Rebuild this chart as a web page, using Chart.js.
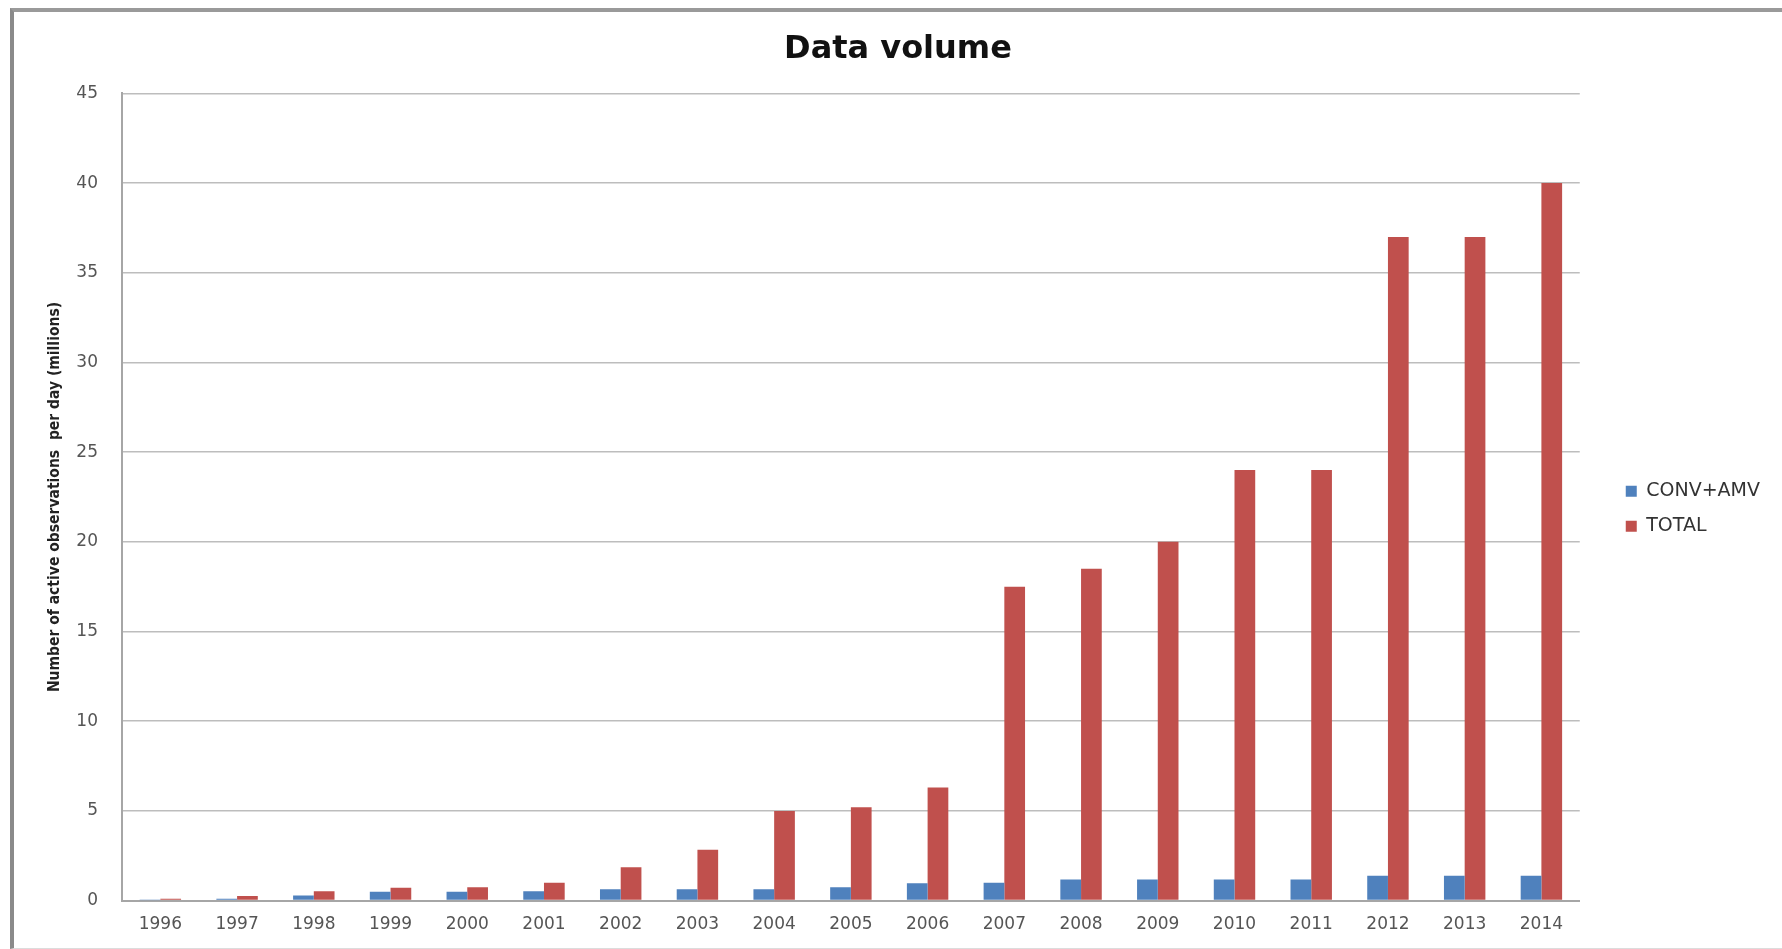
<!DOCTYPE html>
<html lang="en">
<head>
    <meta charset="UTF-8">
    <title>Data volume</title>
    <script src="https://cdn.jsdelivr.net/npm/chart.js"></script>
    <style>
        * {
            padding: 0;
            margin: 0;
        }

        body {
            background-color: #ffffff;
            width: 1782px;
            height: 949px;
            overflow: hidden;
            position: relative;
        }

        #grafico {
            position: absolute;
            left: 0;
            top: 0;
        }

        /* moldura cinza do print original */
        .moldura {
            position: absolute;
            left: 10px;
            top: 8px;
            width: 1800px;
            height: 936px;
            border-left: 4px solid #8a8a8a;
            border-top: 4px solid #9a9a9a;
            border-bottom: 1px solid #dcdcdc;
            pointer-events: none;
        }
    </style>
</head>
<body>
    <canvas id="grafico" width="1782" height="949"></canvas>
    <div class="moldura"></div>

    <script>
        const anos = ['1996', '1997', '1998', '1999', '2000', '2001', '2002', '2003', '2004', '2005',
            '2006', '2007', '2008', '2009', '2010', '2011', '2012', '2013', '2014'];
        const convAmv = [0.02, 0.1, 0.28, 0.5, 0.5, 0.52, 0.63, 0.63, 0.63, 0.74,
            0.97, 1.0, 1.17, 1.17, 1.17, 1.17, 1.39, 1.39, 1.39];
        const total = [0.1, 0.25, 0.52, 0.72, 0.75, 1.0, 1.86, 2.83, 5.0, 5.2,
            6.3, 17.5, 18.5, 20, 24, 24, 37, 37, 40];
        const ticksY = [0, 5, 10, 15, 20, 25, 30, 35, 40, 45];

        const fonteTicks = { family: 'DejaVu Sans', size: 17 };

        let ctx = document.getElementById('grafico').getContext('2d');
        let grafico = new Chart(ctx, {
            type: 'bar',
            data: {
                labels: anos,
                datasets: [{
                    label: 'CONV+AMV',
                    data: convAmv,
                    backgroundColor: '#4F81BD',
                    categoryPercentage: 0.54,
                    barPercentage: 1.0
                }, {
                    label: 'TOTAL',
                    data: total,
                    backgroundColor: '#C0504D',
                    categoryPercentage: 0.54,
                    barPercentage: 1.0
                }]
            },
            options: {
                responsive: false,
                animation: false,
                layout: {
                    padding: { left: 26, right: 12, top: 0, bottom: 8 }
                },
                plugins: {
                    title: {
                        display: true,
                        text: 'Data volume',
                        color: '#111111',
                        font: { family: 'DejaVu Sans', size: 32, weight: 'bold' },
                        padding: { top: 30, bottom: 25 }
                    },
                    legend: {
                        position: 'right',
                        // titulo vazio so para descer os itens da legenda
                        title: {
                            display: true,
                            text: ' ',
                            font: { size: 12 },
                            padding: { top: 62, bottom: 0 }
                        },
                        labels: {
                            boxWidth: 11,
                            boxHeight: 11,
                            padding: 16,
                            color: '#333333',
                            font: { family: 'DejaVu Sans', size: 19 }
                        }
                    },
                    tooltip: { enabled: false }
                },
                scales: {
                    x: {
                        grid: { display: false },
                        border: { display: true, color: '#a6a6a6', width: 2 },
                        ticks: {
                            color: '#555555',
                            font: fonteTicks,
                            padding: 6,
                            maxRotation: 0,
                            autoSkip: false
                        }
                    },
                    y: {
                        min: 0,
                        max: 45,
                        afterBuildTicks: (escala) => {
                            escala.ticks = ticksY.map(v => ({ value: v }));
                        },
                        afterFit: (escala) => {
                            escala.width = 96;
                        },
                        grid: { color: '#bdbdbd', lineWidth: 1.5, drawTicks: false },
                        border: { display: true, color: '#a6a6a6', width: 2 },
                        ticks: {
                            color: '#555555',
                            font: fonteTicks,
                            padding: 24
                        },
                        title: {
                            display: true,
                            text: 'Number of active observations  per day (millions)',
                            color: '#222222',
                            font: { family: 'DejaVu Sans Condensed', size: 15.5, weight: 'bold' },
                            padding: { top: 20, bottom: 0 }
                        }
                    },
                    // eixo vazio so para abrir espaco entre o grafico e a legenda
                    espaco: {
                        position: 'right',
                        display: true,
                        grid: { display: false },
                        border: { display: false },
                        ticks: { display: false },
                        afterFit: (escala) => {
                            escala.width = 30;
                        }
                    }
                }
            }
        });
    </script>
</body>
</html>
